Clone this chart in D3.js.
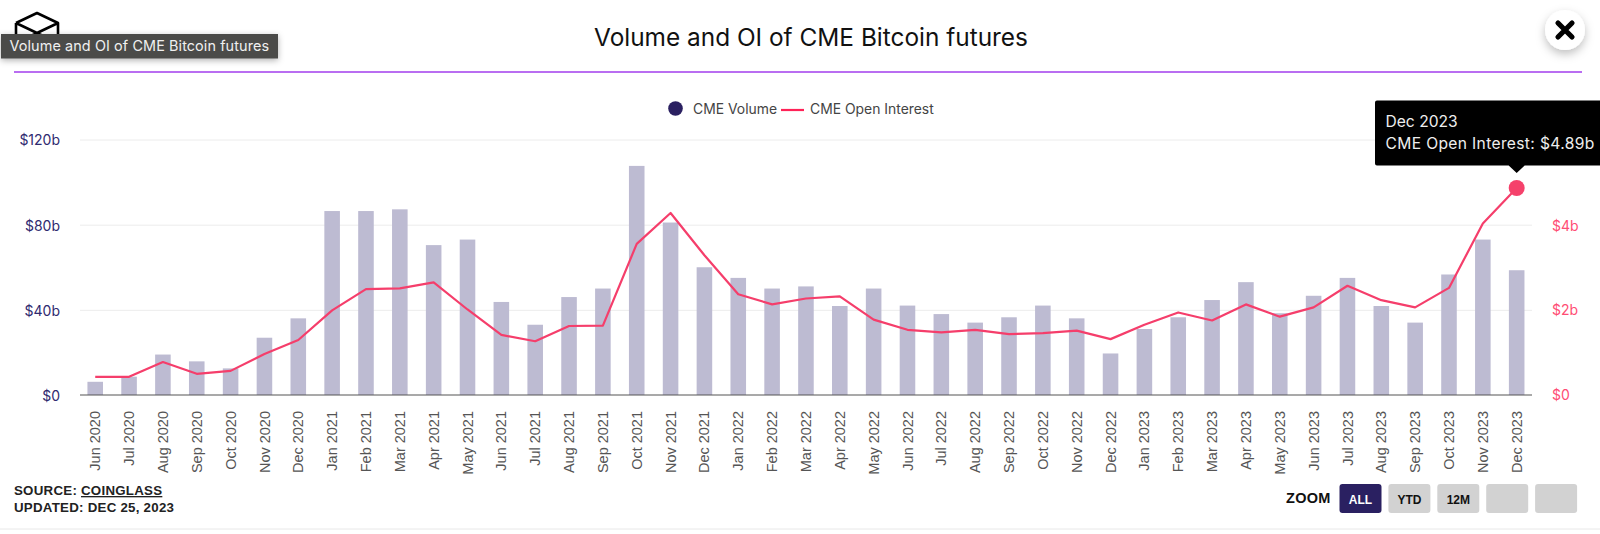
<!DOCTYPE html>
<html><head><meta charset="utf-8">
<script src="https://cdn.jsdelivr.net/npm/d3@7"></script>
<style>
html,body{margin:0;padding:0;background:#fff;overflow:hidden}
svg{display:block}
text{font-family:Inter,"Noto Sans",sans-serif}
.hv{font-family:"Liberation Sans",Arial,sans-serif}
</style></head><body>
<svg id="c" width="1600" height="534"></svg>
<script>
const months = ["Jun 2020","Jul 2020","Aug 2020","Sep 2020","Oct 2020","Nov 2020","Dec 2020","Jan 2021","Feb 2021","Mar 2021","Apr 2021","May 2021","Jun 2021","Jul 2021","Aug 2021","Sep 2021","Oct 2021","Nov 2021","Dec 2021","Jan 2022","Feb 2022","Mar 2022","Apr 2022","May 2022","Jun 2022","Jul 2022","Aug 2022","Sep 2022","Oct 2022","Nov 2022","Dec 2022","Jan 2023","Feb 2023","Mar 2023","Apr 2023","May 2023","Jun 2023","Jul 2023","Aug 2023","Sep 2023","Oct 2023","Nov 2023","Dec 2023"];
const volume = [6.2,8.6,19,15.8,12.5,26.9,36,86.4,86.4,87.2,70.4,73,43.7,33,46,50,107.6,81,60,55,50,51,41.8,50,42,38,34,36.5,42,36,19.5,31,36.5,44.6,53,38.4,46.6,55,41.8,34,56.6,73,58.6];
const openInterest = [0.43,0.43,0.78,0.5,0.57,0.97,1.3,2.0,2.5,2.52,2.66,2.02,1.42,1.27,1.63,1.64,3.57,4.3,3.3,2.38,2.14,2.28,2.33,1.78,1.54,1.48,1.54,1.44,1.46,1.52,1.32,1.66,1.95,1.76,2.14,1.85,2.07,2.58,2.24,2.07,2.53,4.05,4.89];
const volumeTicks = [0,40,80,120];
const oiTicks = [0,2,4];

const svg = d3.select("#c");
const defs = svg.append("defs");
const f1 = defs.append("filter").attr("id","sh").attr("x","-50%").attr("y","-50%").attr("width","200%").attr("height","200%");
f1.append("feDropShadow").attr("dx",0).attr("dy",4).attr("stdDeviation",5).attr("flood-color","#000").attr("flood-opacity",0.25);
const f2 = defs.append("filter").attr("id","sh2").attr("x","-10%").attr("y","-30%").attr("width","120%").attr("height","170%");
f2.append("feDropShadow").attr("dx",0).attr("dy",2).attr("stdDeviation",3).attr("flood-color","#000").attr("flood-opacity",0.3);

const x = d3.scaleBand().domain(months).range([78.3,1533.6]).paddingInner(0.54).paddingOuter(0.27);
const yV = d3.scaleLinear().domain([0,120]).range([395,139.5]);
const yO = d3.scaleLinear().domain([0,6]).range([395,141]);
const cx = d => x(d)+x.bandwidth()/2;

// header
svg.append("text").attr("x",811).attr("y",45.5).attr("text-anchor","middle").attr("font-size",24.4).attr("fill","#111").text("Volume and OI of CME Bitcoin futures");
svg.append("line").attr("x1",14).attr("x2",1582).attr("y1",72).attr("y2",72).attr("stroke","#b96df1").attr("stroke-width",2);

// cube icon
const ic = svg.append("g").attr("fill","none").attr("stroke","#000").attr("stroke-width",2.6).attr("stroke-linejoin","round");
ic.append("path").attr("d","M16 23 L37 13 L58 23 L58 38 M16 23 L16 38 M16 23 L37 33 L58 23 M31 36 L37 33 L43 36");

// grey native tooltip
svg.append("rect").attr("x",1).attr("y",34).attr("width",277).attr("height",24.5).attr("fill","#4b4b4a").attr("filter","url(#sh2)");
svg.append("text").attr("x",9.5).attr("y",51).attr("font-size",14.4).attr("fill","#f0f0f0").attr("letter-spacing",0.1).text("Volume and OI of CME Bitcoin futures");

// close button
svg.append("circle").attr("cx",1565).attr("cy",30).attr("r",20).attr("fill","#fff").attr("filter","url(#sh)");
svg.append("path").attr("d","M1558 23 L1572 37 M1572 23 L1558 37").attr("stroke","#000").attr("stroke-width",5.2).attr("stroke-linecap","round").attr("fill","none");

// legend
svg.append("circle").attr("cx",675.5).attr("cy",108.5).attr("r",7.3).attr("fill","#2a2061");
svg.append("text").attr("x",693).attr("y",114).attr("font-size",13.9).attr("fill","#444").text("CME Volume");
svg.append("line").attr("x1",781).attr("x2",804).attr("y1",110).attr("y2",110).attr("stroke","#ff2257").attr("stroke-width",2.2);
svg.append("text").attr("x",810).attr("y",114).attr("font-size",13.9).attr("fill","#444").text("CME Open Interest");

// gridlines
svg.append("g").selectAll("line").data(volumeTicks.slice(1)).join("line")
  .attr("x1",80).attr("x2",1532).attr("y1",d=>yV(d)+0.5).attr("y2",d=>yV(d)+0.5).attr("stroke","#ececec").attr("stroke-width",1);

// bars
svg.append("g").selectAll("rect").data(months).join("rect")
  .attr("x",d=>x(d)).attr("width",x.bandwidth())
  .attr("y",(d,i)=>yV(volume[i])).attr("height",(d,i)=>yV(0)-yV(volume[i]))
  .attr("fill","#bdbbd2");

// axes
const gx = svg.append("g").attr("transform","translate(0,395)").call(d3.axisBottom(x).tickSize(0));
gx.select(".domain").remove();
svg.append("line").attr("x1",80).attr("x2",1532).attr("y1",395).attr("y2",395).attr("stroke","#555").attr("stroke-width",1.2);
gx.selectAll("text").attr("class","hv").attr("font-size",14.5).attr("fill","#555")
  .attr("text-anchor","end").attr("transform","rotate(-90)").attr("x",-16).attr("y",0).attr("dy","0.35em");

const gl = svg.append("g").attr("transform","translate(60,1)").call(d3.axisLeft(yV).tickValues(volumeTicks).tickSize(0).tickFormat(d=>"$"+d+(d?"b":"")));
gl.select(".domain").remove();
gl.selectAll("text").attr("font-size",14).attr("fill","#2f2a70").attr("x",0);

const gr = svg.append("g").attr("transform","translate(1552,0)").call(d3.axisRight(yO).tickValues(oiTicks).tickSize(0).tickFormat(d=>"$"+d+(d?"b":"")));
gr.select(".domain").remove();
gr.selectAll("text").attr("font-size",14).attr("fill","#ff4d74").attr("x",0);

// OI line
const line = d3.line().x((d,i)=>cx(months[i])).y(d=>yO(d));
svg.append("path").datum(openInterest).attr("d",line).attr("fill","none").attr("stroke","#f53e6b").attr("stroke-width",2.2).attr("stroke-linejoin","round");
const lastM = months[months.length-1], lastV = openInterest[openInterest.length-1];
svg.append("circle").attr("cx",cx(lastM)).attr("cy",yO(lastV)).attr("r",8).attr("fill","#f5416b");

// tooltip
const tx = cx(lastM);
svg.append("path").attr("d",`M1377 100.5 H1600 V165.5 H${tx+8} L${tx} 173 L${tx-8} 165.5 H1377 Q1375 165.5 1375 163.5 V102.5 Q1375 100.5 1377 100.5 Z`).attr("fill","#000");
svg.append("text").attr("x",1385.5).attr("y",127).attr("font-size",15.6).attr("fill","#eee").text(lastM);
svg.append("text").attr("x",1385.5).attr("y",149).attr("font-size",15.6).attr("fill","#eee").attr("letter-spacing",0.35).text("CME Open Interest: $"+lastV.toFixed(2)+"b");

// source
const src = svg.append("text").attr("class","hv").attr("x",14).attr("y",495).attr("font-size",13.3).attr("font-weight","bold").attr("fill","#222").attr("letter-spacing",0.25);
src.append("tspan").text("SOURCE: ");
src.append("tspan").attr("text-decoration","underline").text("COINGLASS");
svg.append("text").attr("class","hv").attr("x",14).attr("y",512).attr("font-size",13.3).attr("font-weight","bold").attr("fill","#222").attr("letter-spacing",0.25).text("UPDATED: DEC 25, 2023");

// zoom controls
svg.append("text").attr("class","hv").attr("x",1286).attr("y",503).attr("font-size",14.5).attr("font-weight","bold").attr("fill","#111").attr("letter-spacing",0.3).text("ZOOM");
const zoomLabels = ["ALL","YTD","12M","",""];
const zg = svg.append("g").selectAll("g").data(zoomLabels).join("g").attr("transform",(d,i)=>`translate(${1339.5+i*48.9},484)`);
zg.append("rect").attr("width",42).attr("height",29).attr("rx",3).attr("fill",(d,i)=>i?"#d2d2d2":"#2a2061");
zg.append("text").attr("class","hv").attr("x",21).attr("y",19.5).attr("text-anchor","middle").attr("font-size",12).attr("font-weight","bold").attr("fill",(d,i)=>i?"#111":"#fff").text(d=>d);

// bottom rule
svg.append("line").attr("x1",0).attr("x2",1600).attr("y1",529).attr("y2",529).attr("stroke","#e8e8e8").attr("stroke-width",1);
</script>
</body></html>
